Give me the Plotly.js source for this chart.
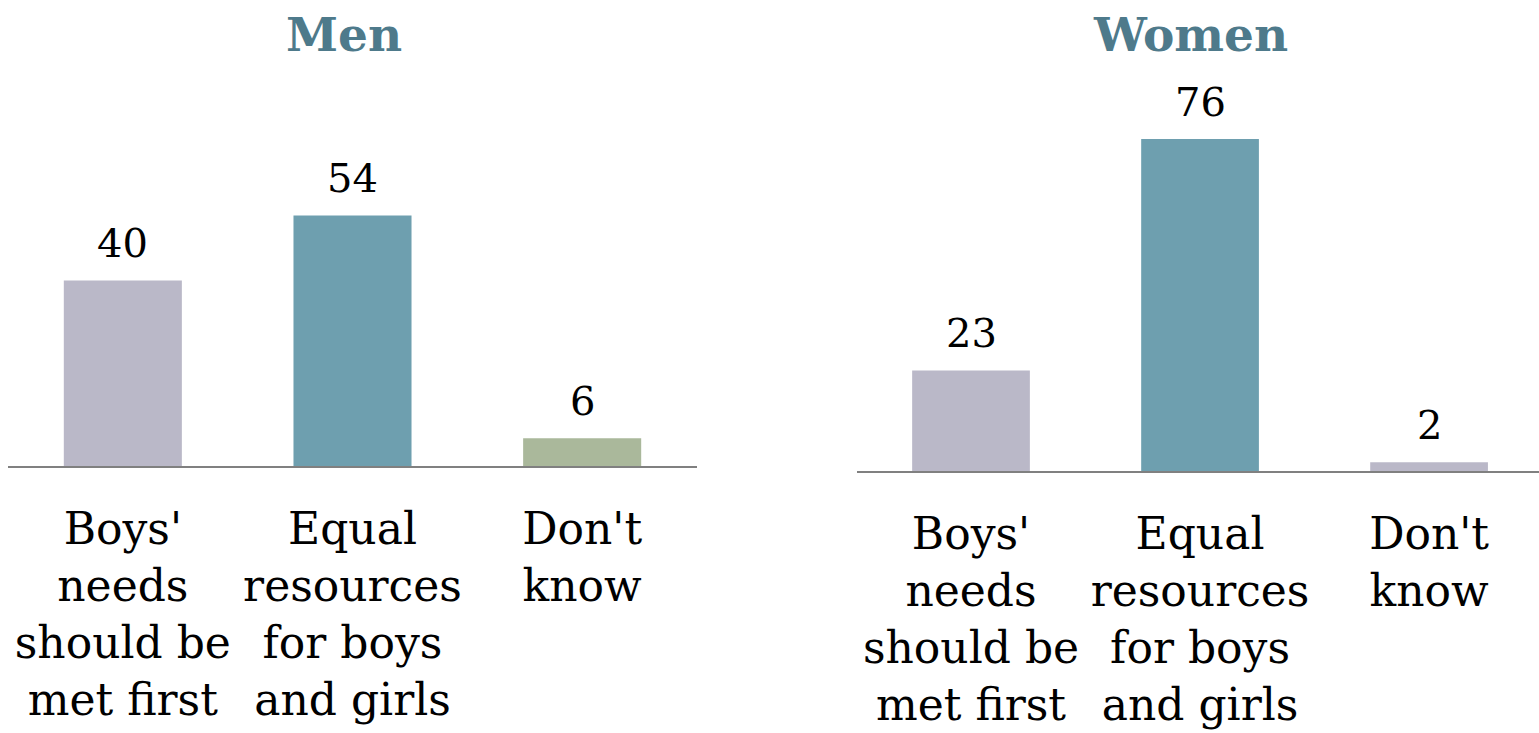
<!DOCTYPE html>
<html>
<head>
<meta charset="utf-8">
<script src="https://cdn.plot.ly/plotly-3.0.1.min.js"></script>
<style>html,body{margin:0;padding:0;background:#fff;}#chart{width:1539px;height:733px;}</style>
</head>
<body>
<div id="chart"></div>
<script>
const categories = ["Boys'<br>needs<br>should be<br>met first", "Equal<br>resources<br>for boys<br>and girls", "Don't<br>know"];
const panelTitles = ["Men", "Women"];
const menValues = [40, 54, 6];
const womenValues = [23, 76, 2];

const menColors = ["#bab8c8", "#6e9faf", "#aab89b"];
const womenColors = ["#bab8c8", "#6e9faf", "#bab8c8"];
const W = 1539, H = 733;
const serif = "DejaVu Serif, Liberation Serif, serif";

const traces = [
  {type: "bar", x: categories, y: menValues, xaxis: "x", yaxis: "y",
   marker: {color: menColors}, hoverinfo: "skip"},
  {type: "bar", x: categories, y: womenValues, xaxis: "x2", yaxis: "y2",
   marker: {color: womenColors}, hoverinfo: "skip"}
];

const annotations = [];
menValues.forEach((v, i) => annotations.push({
  x: categories[i], y: v, xref: "x", yref: "y", text: String(v), showarrow: false,
  yanchor: "bottom", yshift: 12, font: {family: serif, size: 40, color: "#000"}
}));
womenValues.forEach((v, i) => annotations.push({
  x: categories[i], y: v, xref: "x2", yref: "y2", text: String(v), showarrow: false,
  yanchor: "bottom", yshift: 12, font: {family: serif, size: 40, color: "#000"}
}));
annotations.push({x: 344 / W, y: 1 - 34 / H, xref: "paper", yref: "paper", text: "<b>" + panelTitles[0] + "</b>",
  showarrow: false, xanchor: "center", yanchor: "middle", font: {family: serif, size: 47, color: "#4e7a8b"}});
annotations.push({x: 1190 / W, y: 1 - 34 / H, xref: "paper", yref: "paper", text: "<b>" + panelTitles[1] + "</b>",
  showarrow: false, xanchor: "center", yanchor: "middle", font: {family: serif, size: 47, color: "#4e7a8b"}});

const xCommon = {
  type: "category", showline: true, linecolor: "#808080", linewidth: 2,
  showgrid: false, zeroline: false, ticks: "", ticklabelstandoff: 23,
  tickfont: {family: serif, size: 44, color: "#000"}, fixedrange: true
};
const yCommon = {visible: false, showgrid: false, zeroline: false, fixedrange: true};

const layout = {
  width: W, height: H,
  margin: {l: 0, r: 0, t: 0, b: 0},
  paper_bgcolor: "#fff", plot_bgcolor: "#fff",
  showlegend: false, bargap: 0.486,
  xaxis: Object.assign({}, xCommon, {domain: [8 / W, 697 / W], range: [-0.5, 2.5], anchor: "y"}),
  yaxis: Object.assign({}, yCommon, {domain: [(H - 466) / H, (H - 100) / H], range: [0, 366 / 4.64], anchor: "x"}),
  xaxis2: Object.assign({}, xCommon, {domain: [856.5 / W, 1], range: [-0.5, 2.48], anchor: "y2"}),
  yaxis2: Object.assign({}, yCommon, {domain: [(H - 471) / H, (H - 100) / H], range: [0, 371 / 4.37], anchor: "x2"}),
  annotations: annotations
};

Plotly.newPlot("chart", traces, layout, {displayModeBar: false, staticPlot: true});
</script>
</body>
</html>
